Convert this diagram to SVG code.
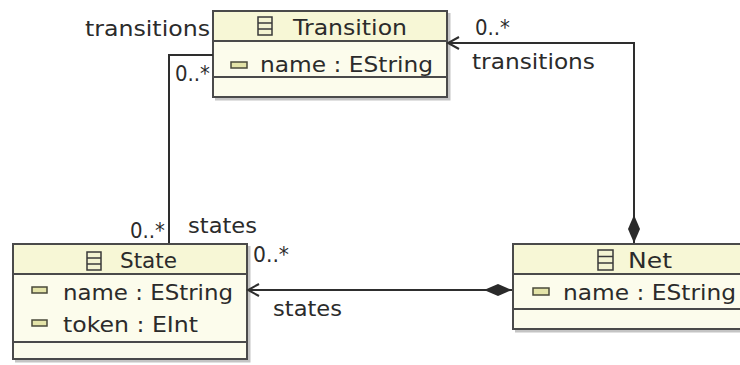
<svg xmlns="http://www.w3.org/2000/svg" width="740" height="365" viewBox="0 0 740 365">
<style>
text{font-family:"DejaVu Sans","Liberation Sans",sans-serif;font-size:22px;fill:#2b2b2b}
.box{fill:#fcfcec;stroke:#4a4a4a;stroke-width:2}
.hdr{fill:#f7f7d6;stroke:none}
.sep{stroke:#4a4a4a;stroke-width:2}
.shadow{fill:none;stroke:#c4c4c4;stroke-width:3}
.ci{fill:#f3f3d2;stroke:#3a3a3a;stroke-width:1.5}
.ai{fill:#e4e4a8;stroke:#4a4a3a;stroke-width:1.5}
.conn{fill:none;stroke:#2e2e2e;stroke-width:2}
</style>
<defs>
<marker id="open" markerWidth="14" markerHeight="14" refX="12" refY="7" orient="auto" markerUnits="userSpaceOnUse">
<path d="M1,1 L12,7 L1,13" fill="none" stroke="#2e2e2e" stroke-width="2"/>
</marker>
<marker id="diamond" markerWidth="30" markerHeight="14" refX="0" refY="7" orient="auto" markerUnits="userSpaceOnUse">
<path d="M0,7 L14,1 L28,7 L14,13 Z" fill="#2a2a2a"/>
</marker>
</defs>
<rect width="740" height="365" fill="#ffffff"/>

<g id="Transition">
<path class="shadow" d="M215,99 H449 V13"/>
<rect class="box" x="213" y="11" width="234" height="86"/>
<rect class="hdr" x="214" y="12" width="232" height="29"/>
<line class="sep" x1="213" y1="41" x2="447" y2="41"/>
<line class="sep" x1="213" y1="77" x2="447" y2="77"/>
<rect class="ci" x="258" y="17" width="14" height="18"/>
<line x1="258" y1="23" x2="272" y2="23" stroke="#3a3a3a" stroke-width="1.5"/>
<line x1="258" y1="29" x2="272" y2="29" stroke="#3a3a3a" stroke-width="1.5"/>
<text x="293" y="35" textLength="114" lengthAdjust="spacingAndGlyphs">Transition</text>
<rect class="ai" x="231" y="62" width="16" height="6"/>
<text x="260" y="72" textLength="173" lengthAdjust="spacingAndGlyphs">name : EString</text>
</g>

<g id="State">
<path class="shadow" d="M15,361 H249 V246"/>
<rect class="box" x="13" y="244" width="234" height="115"/>
<rect class="hdr" x="14" y="245" width="232" height="29"/>
<line class="sep" x1="13" y1="274" x2="247" y2="274"/>
<line class="sep" x1="13" y1="342" x2="247" y2="342"/>
<rect class="ci" x="87" y="252" width="14" height="18"/>
<line x1="87" y1="258" x2="101" y2="258" stroke="#3a3a3a" stroke-width="1.5"/>
<line x1="87" y1="264" x2="101" y2="264" stroke="#3a3a3a" stroke-width="1.5"/>
<text x="120" y="268" textLength="57" lengthAdjust="spacingAndGlyphs">State</text>
<rect class="ai" x="32" y="287" width="15" height="6"/>
<text x="63" y="300" textLength="170" lengthAdjust="spacingAndGlyphs">name : EString</text>
<rect class="ai" x="32" y="320" width="15" height="6"/>
<text x="63" y="332" textLength="135" lengthAdjust="spacingAndGlyphs">token : EInt</text>
</g>

<g id="Net">
<path class="shadow" d="M515,331 H742"/>
<rect class="box" x="513" y="244" width="230" height="85"/>
<rect class="hdr" x="514" y="245" width="228" height="29"/>
<line class="sep" x1="513" y1="274" x2="743" y2="274"/>
<line class="sep" x1="513" y1="309" x2="743" y2="309"/>
<rect class="ci" x="598" y="250" width="15" height="20"/>
<line x1="598" y1="256.5" x2="613" y2="256.5" stroke="#3a3a3a" stroke-width="1.5"/>
<line x1="598" y1="263" x2="613" y2="263" stroke="#3a3a3a" stroke-width="1.5"/>
<text x="628" y="268" textLength="44" lengthAdjust="spacingAndGlyphs">Net</text>
<rect class="ai" x="533" y="288" width="16" height="7"/>
<text x="563" y="300" textLength="173" lengthAdjust="spacingAndGlyphs">name : EString</text>
</g>

<g id="connectors">
<path class="conn" d="M213,55 H169 V243"/>
<path class="conn" d="M634,243 V43 H448" marker-start="url(#diamond)" marker-end="url(#open)"/>
<path class="conn" d="M512,290 H248" marker-start="url(#diamond)" marker-end="url(#open)"/>
<text x="85" y="36" textLength="125" lengthAdjust="spacingAndGlyphs">transitions</text>
<text x="175" y="81" textLength="35" lengthAdjust="spacingAndGlyphs">0..*</text>
<text x="475" y="35" textLength="35" lengthAdjust="spacingAndGlyphs">0..*</text>
<text x="472" y="69" textLength="123" lengthAdjust="spacingAndGlyphs">transitions</text>
<text x="130" y="238" textLength="35" lengthAdjust="spacingAndGlyphs">0..*</text>
<text x="188" y="233" textLength="69" lengthAdjust="spacingAndGlyphs">states</text>
<text x="253" y="262" textLength="36" lengthAdjust="spacingAndGlyphs">0..*</text>
<text x="273" y="316" textLength="69" lengthAdjust="spacingAndGlyphs">states</text>
</g>
</svg>
